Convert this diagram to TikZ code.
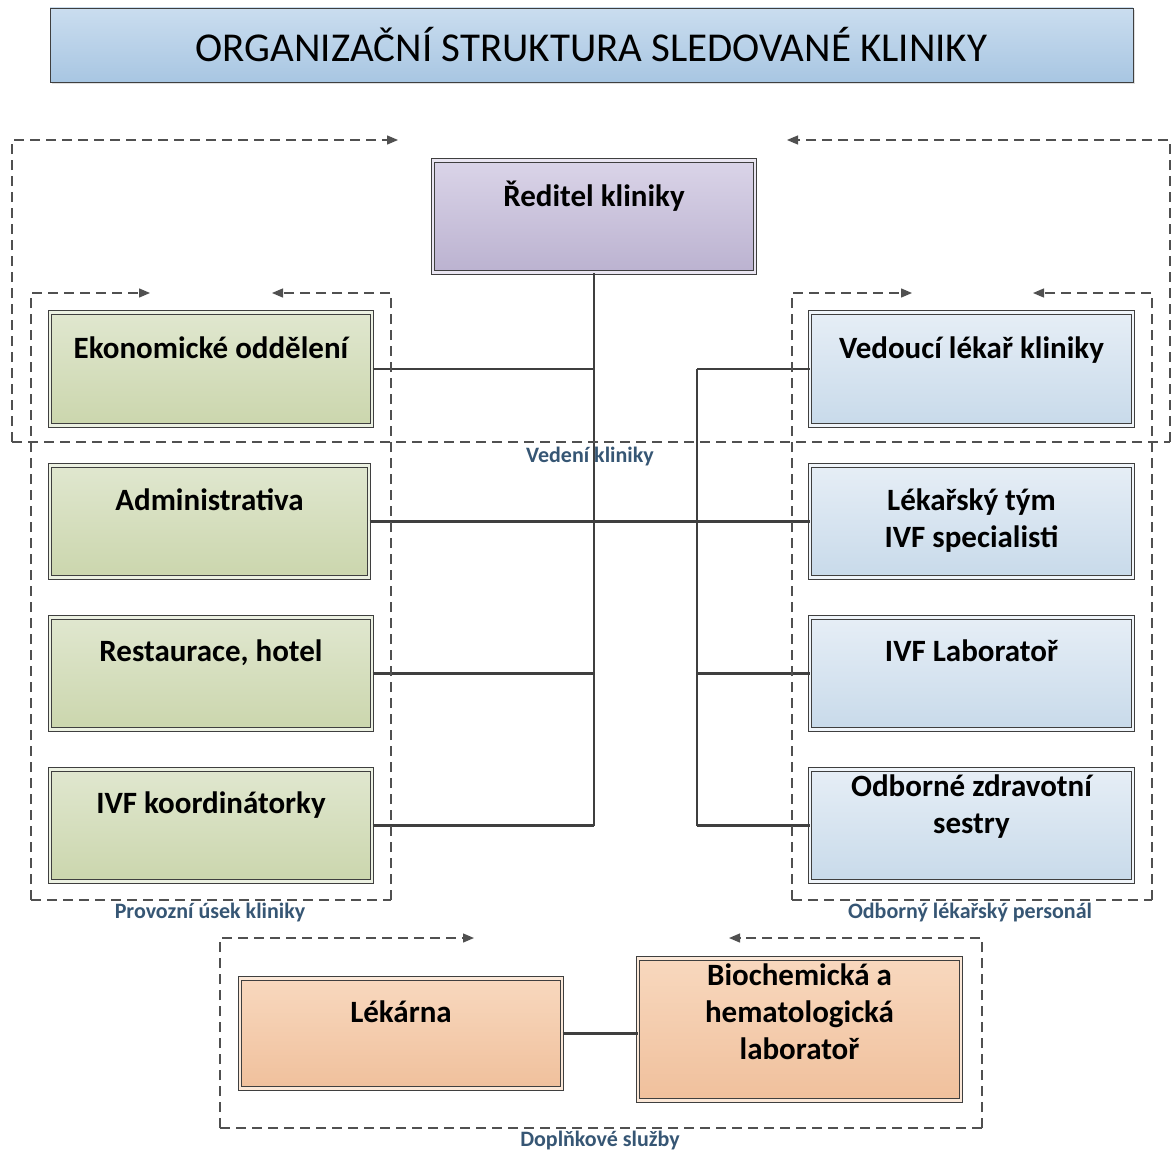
\documentclass[tikz,border=0pt]{standalone}
\usepackage{fontspec}
\setmainfont{Carlito}
\usetikzlibrary{arrows.meta,shadows}
\definecolor{gtop}{HTML}{E0E7CF}
\definecolor{gbot}{HTML}{CBD6AD}
\definecolor{btop}{HTML}{E6EEF6}
\definecolor{bbot}{HTML}{C8DAEA}
\definecolor{ltop}{HTML}{DAD4E8}
\definecolor{lbot}{HTML}{BBB2D0}
\definecolor{otop}{HTML}{F8D8BE}
\definecolor{obot}{HTML}{F0C09C}
\definecolor{ttop}{HTML}{CADDEF}
\definecolor{tbot}{HTML}{A8C6E2}
\definecolor{edge}{HTML}{3F3F3F}
\definecolor{lab}{HTML}{365674}
\definecolor{frame}{HTML}{505050}
\tikzset{
  orgbox/.style={draw=edge, line width=1pt, double distance=2.6pt, inner sep=0pt, anchor=north,
    align=center, font=\fontsize{31}{37}\selectfont\bfseries,
    drop shadow={shadow xshift=2pt, shadow yshift=-2pt, opacity=0.25}},
  greenbox/.style={orgbox, double=gtop!60!white, top color=gtop, bottom color=gbot},
  bluebox/.style={orgbox, double=btop!60!white, top color=btop, bottom color=bbot},
  lavbox/.style={orgbox, double=ltop!60!white, top color=ltop, bottom color=lbot},
  orabox/.style={orgbox, double=otop!60!white, top color=otop, bottom color=obot},
  conn/.style={draw=edge, line width=2.3pt},
  dframe/.style={draw=frame, line width=1.3pt, dash pattern=on 10pt off 6pt},
  darrow/.style={dframe, -{Triangle[length=11pt,width=9pt]}},
  grouplabel/.style={font=\fontsize{22}{24}\selectfont\bfseries, text=lab, inner sep=0pt},
}
\begin{document}
\begin{tikzpicture}[x=1pt,y=-1pt]
\useasboundingbox (0,0) rectangle (1172,1153);

% title
\node[draw=edge, line width=0.8pt, top color=ttop, bottom color=tbot, minimum width=1083pt, minimum height=74pt,
      inner sep=0pt, font=\fontsize{41}{44}\selectfont,
      drop shadow={shadow xshift=2pt, shadow yshift=-2pt, opacity=0.25}] (title) at (591.5,45) {ORGANIZAČNÍ STRUKTURA SLEDOVANÉ KLINIKY};

% director
\node[lavbox, minimum width=322pt, text height=46pt, text depth=66pt] (dir) at (594,160) {Ředitel kliniky};

% left column
\node[greenbox, minimum width=322pt, text height=46pt, text depth=67pt] (eko) at (211,312) {Ekonomické oddělení};
\node[greenbox, minimum width=319pt, text height=45pt, text depth=67pt] (adm) at (209.5,465) {Administrativa};
\node[greenbox, minimum width=322pt, text height=44pt, text depth=68pt] (res) at (211,617) {Restaurace, hotel};
\node[greenbox, minimum width=322pt, text height=44pt, text depth=68pt] (koo) at (211,769) {IVF koordinátorky};

% right column
\node[bluebox, minimum width=323pt, text height=46pt, text depth=67pt] (ved) at (971.5,312) {Vedoucí lékař kliniky};
\node[bluebox, minimum width=323pt, text height=82pt, text depth=30pt] (tym) at (971.5,465) {Lékařský tým\\IVF specialisti};
\node[bluebox, minimum width=323pt, text height=44pt, text depth=68pt] (lab) at (971.5,617) {IVF Laboratoř};
\node[bluebox, minimum width=323pt, text height=64pt, text depth=48pt] (ses) at (971.5,769) {Odborné zdravotní\\sestry};

% bottom
\node[orabox, minimum width=322pt, text height=44pt, text depth=66pt] (lek) at (401,978) {Lékárna};
\node[orabox, minimum width=323pt, text height=101pt, text depth=41pt] (bio) at (799.5,958) {Biochemická a\\hematologická\\laboratoř};

% connectors
\coordinate (rvx) at (697,0);
\draw[conn] (dir.south) -- (koo.east -| dir.south);
\draw[conn] (eko.east) -- (eko.east -| dir.south);
\draw[conn] (res.east) -- (res.east -| dir.south);
\draw[conn] (koo.east) -- (koo.east -| dir.south);
\draw[conn] (adm.east) -- (adm.east -| tym.west);
\draw[conn] (ved.west -| rvx) -- (ses.west -| rvx);
\draw[conn] (ved.west -| rvx) -- (ved.west);
\draw[conn] (lab.west -| rvx) -- (lab.west);
\draw[conn] (ses.west -| rvx) -- (ses.west);
\draw[conn] (lek.east) -- (lek.east -| bio.west);

% frame: Vedeni kliniky
\coordinate (v1) at (12,442);
\coordinate (v2) at (12,140);
\coordinate (v3) at (398,140);
\coordinate (v4) at (1170,442);
\coordinate (v5) at (1170,140);
\coordinate (v6) at (787,140);
\draw[darrow] (v1) -- (v2) -- (v3);
\draw[darrow] (v4) -- (v5) -- (v6);
\draw[dframe] (v1) -- (v4);
\node[grouplabel] (vlab) at (590,457) {Vedení kliniky};

% frame: Provozni usek
\coordinate (p1) at (31,900);
\coordinate (p2) at (31,293);
\coordinate (p3) at (150,293);
\coordinate (p4) at (391,900);
\coordinate (p5) at (391,293);
\coordinate (p6) at (272,293);
\draw[darrow] (p1) -- (p2) -- (p3);
\draw[darrow] (p4) -- (p5) -- (p6);
\draw[dframe] (p1) -- (p4);
\node[grouplabel] (plab) at (210,913) {Provozní úsek kliniky};

% frame: Odborny lekarsky personal
\coordinate (o1) at (792,900);
\coordinate (o2) at (792,293);
\coordinate (o3) at (912,293);
\coordinate (o4) at (1152,900);
\coordinate (o5) at (1152,293);
\coordinate (o6) at (1033,293);
\draw[darrow] (o1) -- (o2) -- (o3);
\draw[darrow] (o4) -- (o5) -- (o6);
\draw[dframe] (o1) -- (o4);
\node[grouplabel] (olab) at (970,913) {Odborný lékařský personál};

% frame: Doplnkove sluzby
\coordinate (d1) at (220,1128);
\coordinate (d2) at (220,938);
\coordinate (d3) at (474,938);
\coordinate (d4) at (982,1128);
\coordinate (d5) at (982,938);
\coordinate (d6) at (729,938);
\draw[darrow] (d1) -- (d2) -- (d3);
\draw[darrow] (d4) -- (d5) -- (d6);
\draw[dframe] (d1) -- (d4);
\node[grouplabel] (dlab) at (600,1140) {Doplňkové služby};
\end{tikzpicture}
\end{document}
